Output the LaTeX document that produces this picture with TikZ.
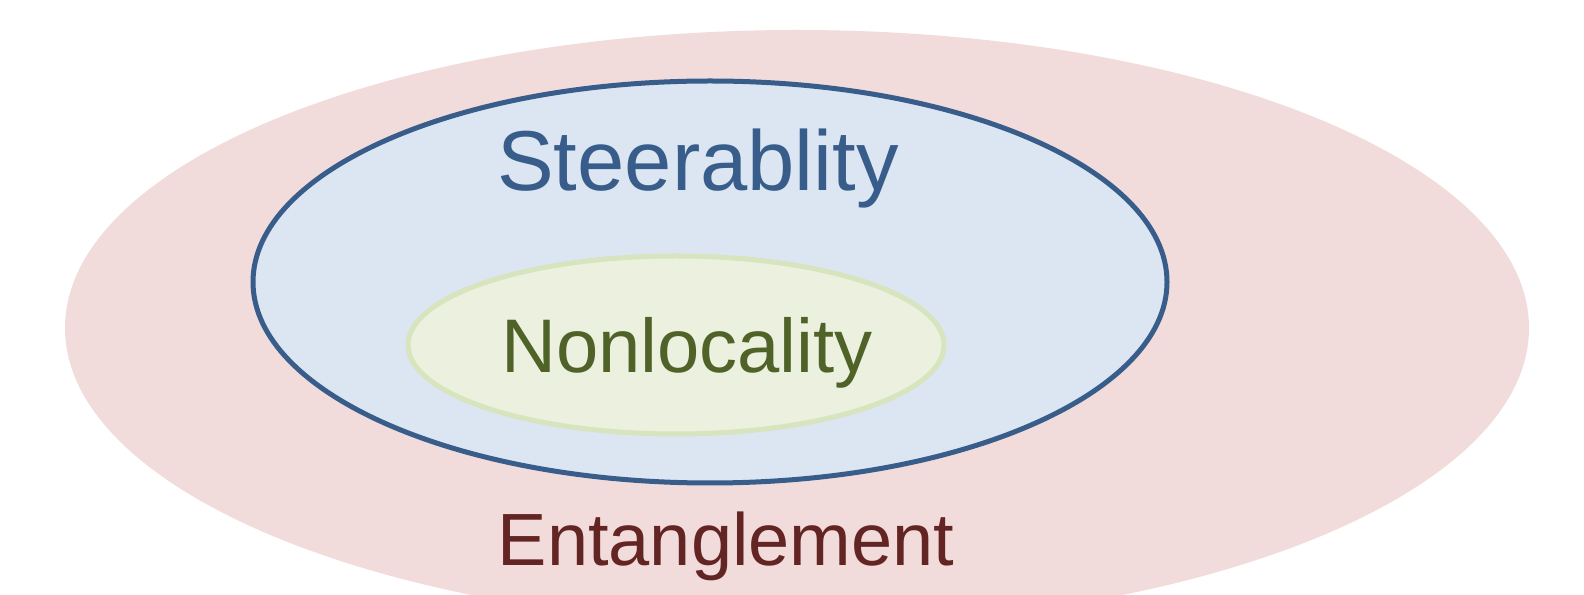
\documentclass[tikz,border=0pt]{standalone}
\usepackage{fontspec}
\setmainfont{Liberation Sans}
\definecolor{entfill}{HTML}{F2DCDB}
\definecolor{enttext}{HTML}{632523}
\definecolor{stfill}{HTML}{DCE6F2}
\definecolor{stline}{HTML}{385D8A}
\definecolor{nlfill}{HTML}{EBF1DE}
\definecolor{nlline}{HTML}{D7E4BD}
\definecolor{nltext}{HTML}{4F6228}
\begin{document}
\begin{tikzpicture}[x=1pt,y=1pt,
  label/.style={anchor=base,inner sep=0pt}]
\useasboundingbox (0,0) rectangle (1584,594);
\clip (0,0) rectangle (1584,594);
% nested sets
\fill[entfill] (797,266) ellipse [x radius=732,y radius=298];
\filldraw[fill=stfill,draw=stline,line width=5] (710,312) ellipse [x radius=457,y radius=201];
\filldraw[fill=nlfill,draw=nlline,line width=5] (676,249) ellipse [x radius=268,y radius=89];
\node[label,text=stline,font=\fontsize{85}{85}\selectfont] (steer) at (698,403) {Steerablity};
\node[label,text=nltext,font=\fontsize{76}{76}\selectfont] (nonloc) at (687,221) {Nonlocality};
\node[label,text=enttext,font=\fontsize{74}{74}\selectfont] (ent) at (726,28) {Entanglement};
\end{tikzpicture}
\end{document}
